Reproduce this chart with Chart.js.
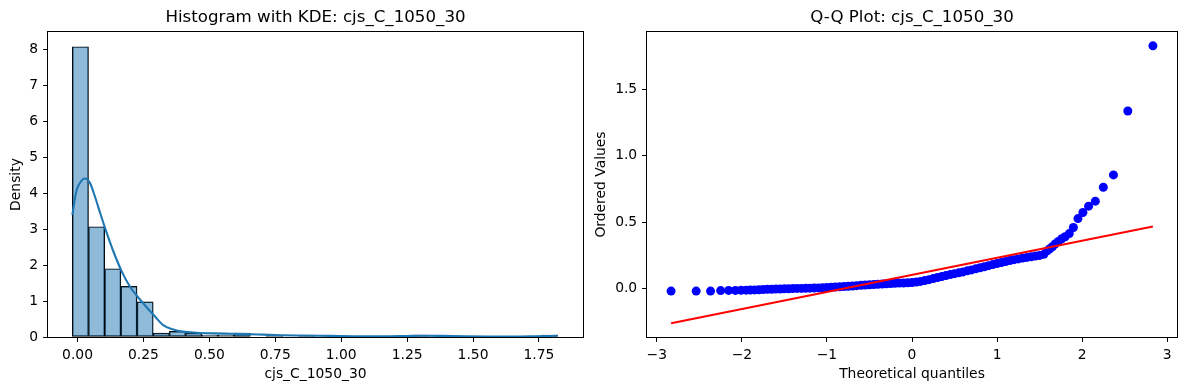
<!DOCTYPE html>
<html><head><meta charset="utf-8">
<script src="https://cdn.jsdelivr.net/npm/chart.js@4.4.1/dist/chart.umd.min.js"></script>
<style>
html,body{margin:0;padding:0;background:#fff;width:1189px;height:390px;overflow:hidden}
canvas{position:absolute;top:0}
#c1{left:0}
#c2{left:590px}
</style></head><body>
<canvas id="c1" width="595" height="390"></canvas>
<canvas id="c2" width="599" height="390"></canvas>
<script>
// ---------- Histogram data ----------
const histBinEdges = [-0.0197,0.0416,0.1030,0.1643,0.2257,0.2870,0.3483,0.4097,0.4710,0.5324,
  0.5937,0.6550,0.7164,0.7777,0.8391,0.9004,0.9617,1.0231,1.0844,1.1458,
  1.2071,1.2684,1.3298,1.3911,1.4525,1.5138,1.5751,1.6365,1.6978,1.7592,1.8205];
const histDensity = [8.08,3.07,1.90,1.41,0.98,0.11,0.16,0.11,0.05,0.05,
  0.11,null,0.05,null,0.05,null,null,null,null,null,
  null,0.05,null,null,null,null,null,null,null,0.05];
const kdeX = [-0.0197,-0.010,-0.003,0.010,0.028,0.047,0.066,0.085,0.111,0.136,0.168,0.199,0.228,0.262,0.294,0.325,0.363,0.40,0.452,0.52,0.578,0.64,0.705,0.77,0.83,0.957,1.05,1.15,1.25,1.31,1.38,1.47,1.56,1.65,1.73,1.8205];
const kdeY = [3.40,3.85,4.10,4.30,4.41,4.29,3.91,3.47,2.89,2.38,1.82,1.40,1.12,0.83,0.57,0.33,0.21,0.15,0.12,0.10,0.09,0.08,0.065,0.05,0.04,0.03,0.022,0.02,0.028,0.035,0.03,0.018,0.012,0.012,0.02,0.035];
const histXTicks = [0,0.25,0.5,0.75,1.0,1.25,1.5,1.75];
const histXTickLabels = ['0.00','0.25','0.50','0.75','1.00','1.25','1.50','1.75'];
const histYTicks = [0,1,2,3,4,5,6,7,8];
const histYTickLabels = ['0','1','2','3','4','5','6','7','8'];

// ---------- Q-Q data ----------
const qqTheoretical = [-2.832,-2.537,-2.368,-2.249,-2.155,-2.076,-2.009,
  -1.95,-1.90,-1.85,-1.80,-1.75,-1.70,-1.65,-1.60,-1.55,-1.50,-1.45,-1.40,-1.35,-1.30,-1.25,-1.20,-1.15,-1.10,-1.05,-1.00,
  -0.95,-0.90,-0.85,-0.80,-0.75,-0.70,-0.65,-0.60,-0.55,-0.50,-0.45,-0.40,-0.35,-0.30,-0.25,-0.20,-0.15,-0.10,-0.05,0.00,
  0.05,0.10,0.15,0.20,0.25,0.30,0.35,0.40,0.45,0.50,0.55,0.60,0.65,0.70,0.75,0.80,0.85,0.90,0.95,1.00,
  1.05,1.10,1.15,1.20,1.25,1.30,1.35,1.40,1.45,1.50,1.55,
  1.59,1.62,1.65,1.68,1.72,1.76,1.80,1.849,1.897,1.951,2.009,2.076,2.155,2.249,2.368,2.537,2.832];
const qqOrdered = [-0.018,-0.018,-0.018,-0.014,-0.013,-0.013,-0.012,
  -0.011,-0.010,-0.009,-0.008,-0.006,-0.005,-0.004,-0.003,-0.002,-0.001,0.000,0.001,0.002,0.002,0.003,0.004,0.005,0.006,0.007,0.009,
  0.010,0.012,0.014,0.016,0.018,0.020,0.023,0.025,0.027,0.029,0.031,0.033,0.035,0.037,0.039,0.041,0.042,0.043,0.044,0.046,
  0.050,0.055,0.061,0.068,0.076,0.084,0.092,0.099,0.106,0.113,0.119,0.126,0.134,0.141,0.149,0.157,0.165,0.173,0.181,0.189,
  0.197,0.204,0.211,0.218,0.224,0.230,0.235,0.240,0.245,0.250,0.258,
  0.285,0.300,0.315,0.335,0.355,0.375,0.390,0.414,0.460,0.527,0.573,0.620,0.658,0.762,0.855,1.335,1.825];
const qqLineX = [-2.832, 2.832];
const qqLineY = [-0.259, 0.468];
const qqXTicks = [-3,-2,-1,0,1,2,3];
const qqXTickLabels = ['\u22123','\u22122','\u22121','0','1','2','3'];
const qqYTicks = [0,0.5,1.0,1.5];
const qqYTickLabels = ['0.0','0.5','1.0','1.5'];

// ---------- helpers ----------
const FAM = '"DejaVu Sans", sans-serif';
const tickFont = {family: FAM, size: 13.89, lineHeight: 1.2};
const labFont = {family: FAM, size: 13.89, lineHeight: 1};
const titleFont = {family: FAM, size: 16.67, lineHeight: 1.2, weight: 'normal'};

const frame = {
  id: 'frame',
  afterDatasetsDraw(chart) {
    const {ctx, chartArea: a} = chart;
    ctx.save();
    ctx.strokeStyle = '#000';
    ctx.lineWidth = 1;
    const l = Math.round(a.left) - 0.5, t = Math.round(a.top) - 0.5;
    const r = Math.round(a.right) + 0.5, b = Math.round(a.bottom) + 0.5;
    ctx.strokeRect(l, t, r - l, b - t);
    ctx.restore();
  }
};

function axis(opts) {
  return {
    type: 'linear',
    min: opts.min, max: opts.max,
    offset: false,
    grid: {display: true, drawOnChartArea: false, drawTicks: true, tickLength: 4.9, tickColor: '#000', tickWidth: 1, offset: false},
    border: {display: false},
    ticks: {font: tickFont, color: '#000', padding: 4.9, autoSkip: false, maxRotation: 0,
      callback: (v, i) => opts.labels[i]},
    title: {display: true, text: opts.title, font: labFont, color: '#000', padding: opts.titlePad},
    afterBuildTicks: s => { s.ticks = opts.ticks.map(v => ({value: v})); },
    afterFit: s => { if (opts.width !== undefined) s.width = opts.width; if (opts.height !== undefined) s.height = opts.height; }
  };
}

Chart.defaults.font.family = FAM;

// ---------- Chart 1: histogram + KDE ----------
const barData = histDensity.map((d, i) => ({x: (histBinEdges[i] + histBinEdges[i + 1]) / 2, y: d}));
const kdeData = kdeX.map((x, i) => ({x, y: kdeY[i]}));

new Chart(document.getElementById('c1'), {
  type: 'bar',
  data: {datasets: [
    {type: 'line', data: kdeData, borderColor: '#1f77b4', borderWidth: 2.1, pointRadius: 0,
     cubicInterpolationMode: 'monotone', fill: false, order: 0},
    {type: 'bar', data: barData, backgroundColor: 'rgba(31,119,180,0.5)', borderColor: '#000',
     borderWidth: 0.8, borderSkipped: false, barPercentage: 1, categoryPercentage: 1, order: 1}
  ]},
  options: {
    responsive: false, animation: false, events: [],
    layout: {padding: {left: 0, right: 12, top: 0, bottom: 0}},
    plugins: {
      legend: {display: false}, tooltip: {enabled: false},
      title: {display: true, text: 'Histogram with KDE: cjs_C_1050_30', fullSize: false,
        font: titleFont, color: '#000', padding: {top: 8, bottom: 4}}
    },
    scales: {
      x: axis({min: -0.112, max: 1.917, ticks: histXTicks, labels: histXTickLabels,
        title: 'cjs_C_1050_30', titlePad: {top: 0, bottom: 9}, height: 53}),
      y: axis({min: 0, max: 8.49, ticks: histYTicks, labels: histYTickLabels,
        title: 'Density', titlePad: {top: 9, bottom: 0}, width: 48})
    }
  },
  plugins: [frame]
});

// ---------- Chart 2: Q-Q plot ----------
const qqData = qqTheoretical.map((x, i) => ({x, y: qqOrdered[i]}));
const lineData = qqLineX.map((x, i) => ({x, y: qqLineY[i]}));

new Chart(document.getElementById('c2'), {
  type: 'scatter',
  data: {datasets: [
    {type: 'line', data: lineData, borderColor: '#ff0000', borderWidth: 2.1, pointRadius: 0, fill: false, order: 0},
    {type: 'scatter', data: qqData, pointRadius: 4.5, pointBackgroundColor: '#0000ff',
     pointBorderWidth: 0, pointBorderColor: '#0000ff', showLine: false, order: 1}
  ]},
  options: {
    responsive: false, animation: false, events: [],
    layout: {padding: {left: 0, right: 12, top: 0, bottom: 0}},
    plugins: {
      legend: {display: false}, tooltip: {enabled: false},
      title: {display: true, text: 'Q-Q Plot: cjs_C_1050_30', fullSize: false,
        font: titleFont, color: '#000', padding: {top: 8, bottom: 4}}
    },
    scales: {
      x: axis({min: -3.115, max: 3.115, ticks: qqXTicks, labels: qqXTickLabels,
        title: 'Theoretical quantiles', titlePad: {top: 0, bottom: 9}, height: 53}),
      y: axis({min: -0.363, max: 1.929, ticks: qqYTicks, labels: qqYTickLabels,
        title: 'Ordered Values', titlePad: {top: 4.5, bottom: 0}, width: 57})
    }
  },
  plugins: [frame]
});
</script>
</body></html>
